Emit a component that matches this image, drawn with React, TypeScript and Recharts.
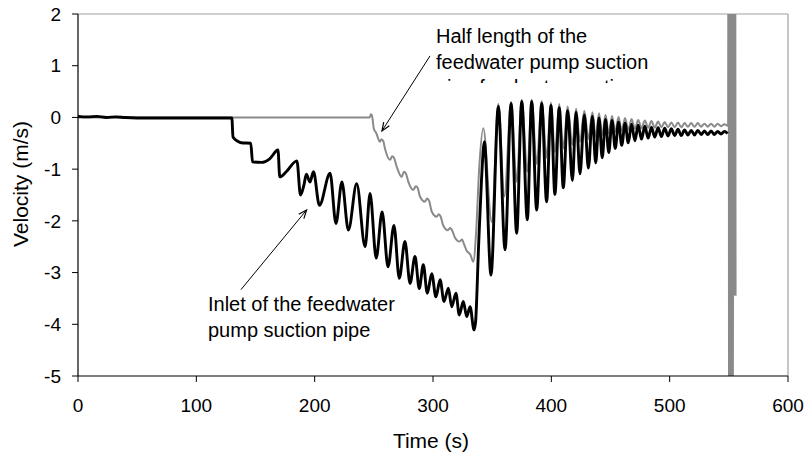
import React from 'react';
import { LineChart, Line, XAxis, YAxis, ReferenceLine } from 'recharts';

const FONT = '"Liberation Sans", Arial, Helvetica, sans-serif';
const W = 809;
const H = 459;

const timeTicks = [0, 100, 200, 300, 400, 500, 600];
const velocityTicks = [-5, -4, -3, -2, -1, 0, 1, 2];

// Inlet of the feedwater pump suction pipe (black) : [time s, velocity m/s]
const inletSteady: [number, number][] = [
  [0, 0.02], [8, 0.01], [16, 0.02], [24, 0.0], [32, 0.01], [40, 0.0], [60, -0.01], [100, -0.01], [130, -0.01],
];
const inletDecline: [number, number][] = [
  [131, -0.38], [135, -0.46], [138, -0.49], [146, -0.5], [147.5, -0.86], [155, -0.87], [162, -0.8], [169, -0.63],
  [170.5, -1.15], [176, -1.05], [185, -0.84], [188, -1.5], [191, -1.3], [193, -1.1], [196, -1.25], [199, -1.05],
  [204, -1.7], [213, -1.08], [218, -2.05], [223, -1.25], [228.5, -2.18], [235.5, -1.28], [242.6, -2.5], [246.8, -1.47],
  [252, -2.72], [257, -1.83], [262, -2.89], [267, -2.09], [271.5, -3.11], [276.3, -2.4], [280.6, -3.21], [284.8, -2.69],
  [288.4, -3.31], [291.8, -2.85], [295.2, -3.4], [298.9, -3.02], [302.5, -3.47], [306, -3.14], [309.3, -3.56], [313, -3.3],
  [315.8, -3.66], [319.4, -3.4], [322.2, -3.82], [325.6, -3.56], [328.5, -3.85], [331.3, -3.66], [334.7, -4.11],
];
const inletRecovery: [number, number][] = [
  [336, -3.95], [338.5, -2.5], [341, -1.2], [343.4, -0.47], [349, -3.05], [355.2, 0.21], [360.9, -2.56], [366, 0.27],
  [370.7, -2.24], [375, 0.31], [379.7, -1.98], [383.4, 0.31], [387.6, -1.79], [391.9, 0.27], [396, -1.63], [399.7, 0.23],
  [403, -1.49], [406.7, 0.19], [410.1, -1.36], [413.8, 0.13], [417.8, -1.22], [420.9, 0.1], [424.2, -1.09], [427.9, 0.05],
  [431.3, -0.98], [434.7, 0.02], [437.5, -0.88], [440.3, -0.01], [443, -0.78], [445.8, -0.04], [448.5, -0.68], [451.3, -0.06],
  [454, -0.6], [456.8, -0.09], [459.5, -0.54], [462.3, -0.11], [465, -0.49], [467.8, -0.13], [470.6, -0.45], [473.4, -0.15],
  [476.2, -0.42], [479, -0.17], [481.8, -0.4], [484.6, -0.19], [487.4, -0.38], [490.2, -0.2], [493, -0.37], [495.8, -0.21],
  [498.6, -0.36], [501.4, -0.22], [504.2, -0.35], [507, -0.23], [509.8, -0.35], [512.6, -0.24], [515.4, -0.34], [518.2, -0.25],
  [521, -0.34], [523.8, -0.25], [526.6, -0.33], [529.4, -0.26], [532.2, -0.33], [535, -0.26], [537.8, -0.33], [540.6, -0.27],
  [543.4, -0.32], [546.2, -0.27], [549, -0.31],
];

// Half length of the feedwater pump suction pipe (gray)
const halfSteady: [number, number][] = [
  [0, 0], [100, 0], [200, 0], [246.5, 0],
];
const halfDecline: [number, number][] = [
  [247.5, 0.06], [248.5, 0.03], [250, -0.22], [252, -0.3], [255.2, -0.47], [256.5, -0.42], [258, -0.46], [259.4, -0.6],
  [263.7, -0.82], [265.5, -0.75], [267, -0.78], [269.3, -0.95], [273.5, -1.15], [275.5, -1.05], [277, -1.08], [279.1, -1.24],
  [283.4, -1.4], [285.5, -1.33], [287, -1.36], [289, -1.53], [293.2, -1.63], [295, -1.57], [296.8, -1.62], [298.9, -1.82],
  [303.1, -1.92], [304.8, -1.87], [306.5, -1.92], [308.5, -2.08], [312.5, -2.18], [314.5, -2.14], [316.5, -2.2], [318.5, -2.32],
  [322.5, -2.4], [324.5, -2.36], [326.2, -2.45], [328.5, -2.58], [331.5, -2.65], [334, -2.79],
];
const halfRecovery: [number, number][] = [
  [336.5, -2.2], [339, -1.0], [342.5, -0.21], [349.6, -2.02], [355.2, 0.26], [360.3, -1.53], [366, 0.3], [370.7, -1.25],
  [375, 0.34], [379.7, -1.05], [383.4, 0.34], [387.6, -0.9], [391.9, 0.32], [396, -0.78], [399.7, 0.29], [403, -0.68],
  [406.7, 0.26], [410.1, -0.6], [413.8, 0.21], [417.8, -0.53], [420.9, 0.17], [424.2, -0.47], [427.9, 0.13], [431.3, -0.42],
  [434.7, 0.1], [437.5, -0.38], [440.3, 0.08], [443, -0.34], [445.8, 0.05], [448.5, -0.31], [451.3, 0.03], [454, -0.28],
  [456.8, 0.01], [459.5, -0.26], [462.3, -0.01], [465, -0.24], [467.8, -0.03], [470.6, -0.22], [473.4, -0.05], [476.2, -0.21],
  [479, -0.06], [481.8, -0.2], [484.6, -0.07], [487.4, -0.2], [490.2, -0.08], [493, -0.19], [495.8, -0.09], [498.6, -0.19],
  [501.4, -0.1], [504.2, -0.19], [507, -0.1], [509.8, -0.19], [512.6, -0.11], [515.4, -0.18], [518.2, -0.11], [521, -0.18],
  [523.8, -0.11], [526.6, -0.18], [529.4, -0.12], [532.2, -0.18], [535, -0.12], [537.8, -0.18], [540.6, -0.12], [543.4, -0.17],
  [546.2, -0.13], [549, -0.16],
];
const halfSpike: [number, number][] = [
  [549.4, -0.15], [549.8, 9], [550.3, -9], [550.8, 9], [551.3, -9], [551.8, 9], [552.3, -9], [552.8, 9], [553.3, -9],
  [554, 9], [554.6, -3.45], [555.2, 9], [555.7, -3.45],
];

const toPoints = (rows: [number, number][]) => rows.map(([t, v]) => ({ t, v }));
const inletData = toPoints([...inletSteady, ...inletDecline, ...inletRecovery]);
const halfData = toPoints([...halfSteady, ...halfDecline, ...halfRecovery, ...halfSpike]);

// annotation arrows in data coordinates
const halfArrow = [{ x: 297.5, y: 1.19 }, { x: 256.9, y: -0.26 }];
const inletArrow = [{ x: 137.7, y: -3.33 }, { x: 193.2, y: -1.79 }];

const ArrowShape = (props: any) => {
  const { x1, y1, x2, y2 } = props;
  if ([x1, y1, x2, y2].some((n) => typeof n !== 'number' || isNaN(n))) return <g />;
  const ang = Math.atan2(y2 - y1, x2 - x1);
  const len = 9;
  const spread = 0.38;
  const ax = x2 - len * Math.cos(ang - spread);
  const ay = y2 - len * Math.sin(ang - spread);
  const bx = x2 - len * Math.cos(ang + spread);
  const by = y2 - len * Math.sin(ang + spread);
  return (
    <g>
      <line x1={x1} y1={y1} x2={x2} y2={y2} stroke="#000" strokeWidth={1} />
      <polyline points={`${ax},${ay} ${x2},${y2} ${bx},${by}`} fill="none" stroke="#000" strokeWidth={1.2} />
    </g>
  );
};

const tickStyle = { fill: '#000', fontSize: 19, fontFamily: FONT };

export default function App() {
  return (
    <div style={{ position: 'absolute', left: 0, top: 0, width: W, height: H, background: '#fff' }}>
      <LineChart width={W} height={H} margin={{ top: 14, right: 21, bottom: 23, left: 18 }}>
        <XAxis
          type="number"
          dataKey="t"
          domain={[0, 600]}
          ticks={timeTicks}
          allowDataOverflow
          height={60}
          tickSize={6}
          tickMargin={17}
          stroke="#000"
          tick={tickStyle}
          axisLine={{ stroke: '#000', strokeWidth: 1.2 }}
          tickLine={{ stroke: '#000' }}
        />
        <YAxis
          type="number"
          dataKey="v"
          domain={[-5, 2]}
          ticks={velocityTicks}
          allowDataOverflow
          width={60}
          tickSize={6}
          tickMargin={11}
          stroke="#000"
          tick={tickStyle}
          axisLine={{ stroke: '#000', strokeWidth: 1.2 }}
          tickLine={{ stroke: '#000' }}
        />
        <ReferenceLine y={2} stroke="#a0a0a0" strokeWidth={1.2} />
        <ReferenceLine x={600} stroke="#a0a0a0" strokeWidth={1.2} />
        <Line
          data={halfData}
          dataKey="v"
          type="monotone"
          stroke="#8a8a8a"
          strokeWidth={2}
          dot={false}
          activeDot={false}
          isAnimationActive={false}
        />
        <Line
          data={inletData}
          dataKey="v"
          type="monotone"
          stroke="#000"
          strokeWidth={2.9}
          dot={false}
          activeDot={false}
          isAnimationActive={false}
        />
        <ReferenceLine segment={halfArrow} ifOverflow="visible" shape={ArrowShape} />
        <ReferenceLine segment={inletArrow} ifOverflow="visible" shape={ArrowShape} />
      </LineChart>
      <svg
        width={W}
        height={H}
        style={{ position: 'absolute', left: 0, top: 0, pointerEvents: 'none' }}
        fontFamily={FONT}
      >
        <defs>
          <clipPath id="halfLabelClip">
            <rect x={430} y={20} width={260} height={63} />
          </clipPath>
        </defs>
        <text transform="translate(28,184) rotate(-90)" textAnchor="middle" fontSize={21} fill="#000">
          Velocity (m/s)
        </text>
        <text x={431} y={448} textAnchor="middle" fontSize={21} fill="#000">
          Time (s)
        </text>
        <g clipPath="url(#halfLabelClip)" fontSize={20} fill="#000">
          <text x={436} y={43}>Half length of the</text>
          <text x={436} y={68.5}>feedwater pump suction</text>
          <text x={436} y={94}>pipe feedwater suction</text>
        </g>
        <g fontSize={20} fill="#000">
          <text x={208} y={311}>Inlet of the feedwater</text>
          <text x={208} y={337}>pump suction pipe</text>
        </g>
      </svg>
    </div>
  );
}
